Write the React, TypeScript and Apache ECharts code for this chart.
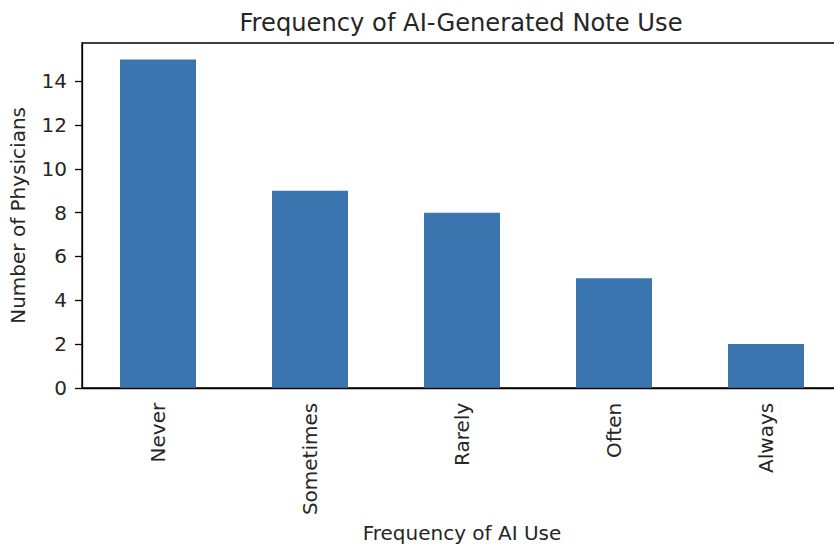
import React, { useEffect, useRef } from "react";
import * as echarts from "echarts";

const categories = ["Never", "Sometimes", "Rarely", "Often", "Always"];
const physicianCounts = [15, 9, 8, 5, 2];
const yTickValues = [0, 2, 4, 6, 8, 10, 12, 14];

const FONT = "DejaVu Sans";
const TEXT = "#262626";

export default function App() {
  const ref = useRef<HTMLDivElement>(null);
  useEffect(() => {
    if (!ref.current) return;
    const chart = echarts.init(ref.current, null, { renderer: "svg" });
    chart.setOption({
      animation: false,
      backgroundColor: "#ffffff",
      title: {
        text: "Frequency of AI-Generated Note Use",
        left: 456,
        top: 6,
        textAlign: "center",
        textStyle: { fontFamily: FONT, fontSize: 24.2, fontWeight: "normal", color: TEXT },
      },
      grid: {
        left: 81,
        right: 8,
        top: 43,
        bottom: 155,
        show: true,
        borderColor: "#000",
        borderWidth: 1.3,
        backgroundColor: "transparent",
      },
      xAxis: {
        type: "category",
        data: categories,
        name: "Frequency of AI Use",
        nameLocation: "middle",
        nameGap: 134,
        nameTextStyle: { fontFamily: FONT, fontSize: 20, color: TEXT },
        axisLine: { lineStyle: { color: "#000", width: 1.3 } },
        axisTick: { alignWithLabel: true, length: 7, lineStyle: { color: "#000", width: 1.3 } },
        axisLabel: {
          rotate: 90,
          margin: 15,
          fontFamily: FONT,
          fontSize: 20,
          color: TEXT,
        },
      },
      yAxis: {
        type: "value",
        min: 0,
        max: 15.75,
        interval: 2,
        name: "Number of Physicians",
        nameLocation: "middle",
        nameGap: 54,
        nameTextStyle: { fontFamily: FONT, fontSize: 20, color: TEXT },
        axisLine: { show: true, lineStyle: { color: "#000", width: 1.3 } },
        axisTick: { show: true, length: 7, customValues: yTickValues, lineStyle: { color: "#000", width: 1.3 } },
        axisLabel: {
          margin: 15,
          customValues: yTickValues,
          fontFamily: FONT,
          fontSize: 20,
          color: TEXT,
        },
        splitLine: { show: false },
      },
      series: [
        {
          type: "bar",
          data: physicianCounts,
          barWidth: "50%",
          itemStyle: { color: "#3a75af" },
        },
      ],
    });
    return () => chart.dispose();
  }, []);
  return (
    <div
      style={{
        position: "fixed",
        left: 0,
        top: 0,
        width: 834,
        height: 548,
        overflow: "hidden",
        background: "#fff",
      }}
    >
      <div ref={ref} style={{ width: 850, height: 548 }} />
    </div>
  );
}
